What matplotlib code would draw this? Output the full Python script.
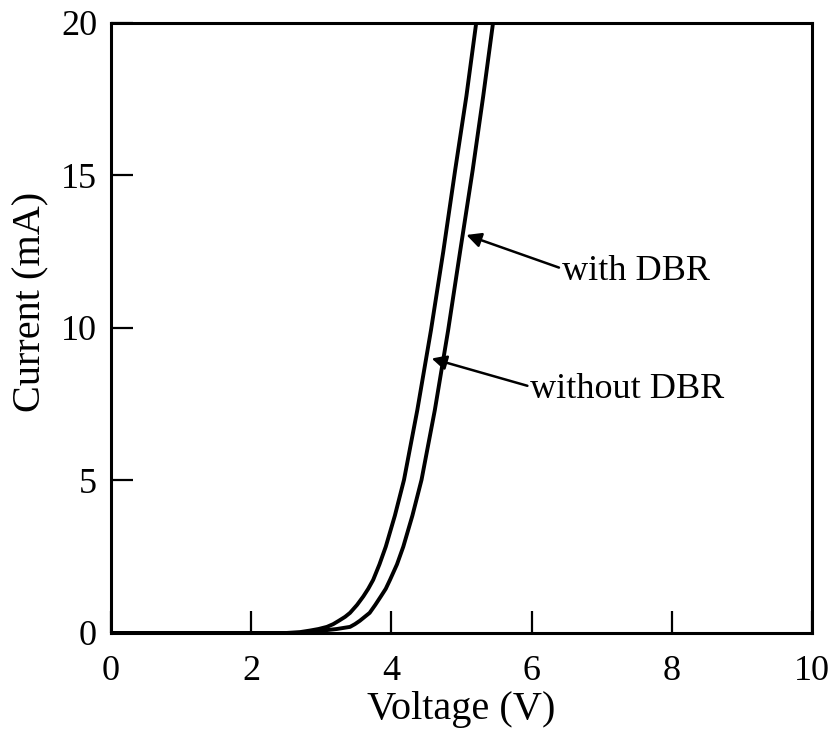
import numpy as np
import matplotlib
matplotlib.use("Agg")
from matplotlib import pyplot as plt

# I-V curves (V in volts, I in mA)
v_without = [0.0, 2.5, 2.70, 2.84, 2.96, 3.08, 3.17, 3.25, 3.34, 3.41, 3.51, 3.60, 3.67, 3.74, 3.83, 3.92,
             4.05, 4.18, 4.37, 4.565, 4.74, 4.91, 5.07, 5.21]
i_without = [0.0, 0.0, 0.03, 0.08, 0.13, 0.20, 0.29, 0.40, 0.53, 0.66, 0.92, 1.20, 1.45, 1.74, 2.25, 2.83,
             3.85, 5.02, 7.31, 9.93, 12.5, 15.18, 17.6, 20.0]

v_with = [0.0, 2.7, 2.90, 3.02, 3.22, 3.41, 3.48, 3.55, 3.62, 3.69, 3.77, 3.85, 3.92, 3.98, 4.08, 4.17,
          4.30, 4.43, 4.62, 4.81, 4.98, 5.16, 5.31, 5.45]
i_with = [0.0, 0.0, 0.03, 0.08, 0.13, 0.20, 0.29, 0.40, 0.53, 0.66, 0.92, 1.20, 1.45, 1.74, 2.25, 2.83,
          3.85, 5.02, 7.31, 9.93, 12.5, 15.18, 17.6, 20.0]

x_ticks = [0, 2, 4, 6, 8, 10]
y_ticks = [0, 5, 10, 15, 20]

plt.rcParams['font.family'] = ['Liberation Serif', 'DejaVu Serif']

fig = plt.figure(figsize=(8.37, 7.46), dpi=100)
ax = fig.add_axes([0.1326, 0.1515, 0.8375, 0.8177])

ax.plot(v_without, i_without, color='black', lw=2.8, solid_joinstyle='round')
ax.plot(v_with, i_with, color='black', lw=2.8, solid_joinstyle='round')

ax.set_xlim(0, 10)
ax.set_ylim(0, 20)
ax.set_xticks(x_ticks)
ax.set_yticks(y_ticks)
ax.tick_params(direction='in', length=16, width=1.6, labelsize=26,
               top=False, right=False)
ax.tick_params(axis='x', pad=16)
ax.tick_params(axis='y', pad=10)
for s in ax.spines.values():
    s.set_linewidth(2.2)

ax.set_xlabel("Voltage (V)", fontsize=29, labelpad=2)
ax.set_ylabel("Current (mA)", fontsize=29)
ax.yaxis.set_label_coords(-0.088, 0.543)

arrow = dict(arrowstyle='-|>', color='black', lw=1.8, mutation_scale=22,
             shrinkA=0, shrinkB=0, relpos=(0, 0.6))
ax.annotate("with DBR", xy=(5.07, 13.05), xytext=(6.43, 11.84),
            fontsize=26, ha='left', va='center', arrowprops=arrow)
ax.annotate("without DBR", xy=(4.575, 9.0), xytext=(5.98, 7.97),
            fontsize=26, ha='left', va='center', arrowprops=arrow)

plt.savefig("out.png", dpi=100)
plt.close()
